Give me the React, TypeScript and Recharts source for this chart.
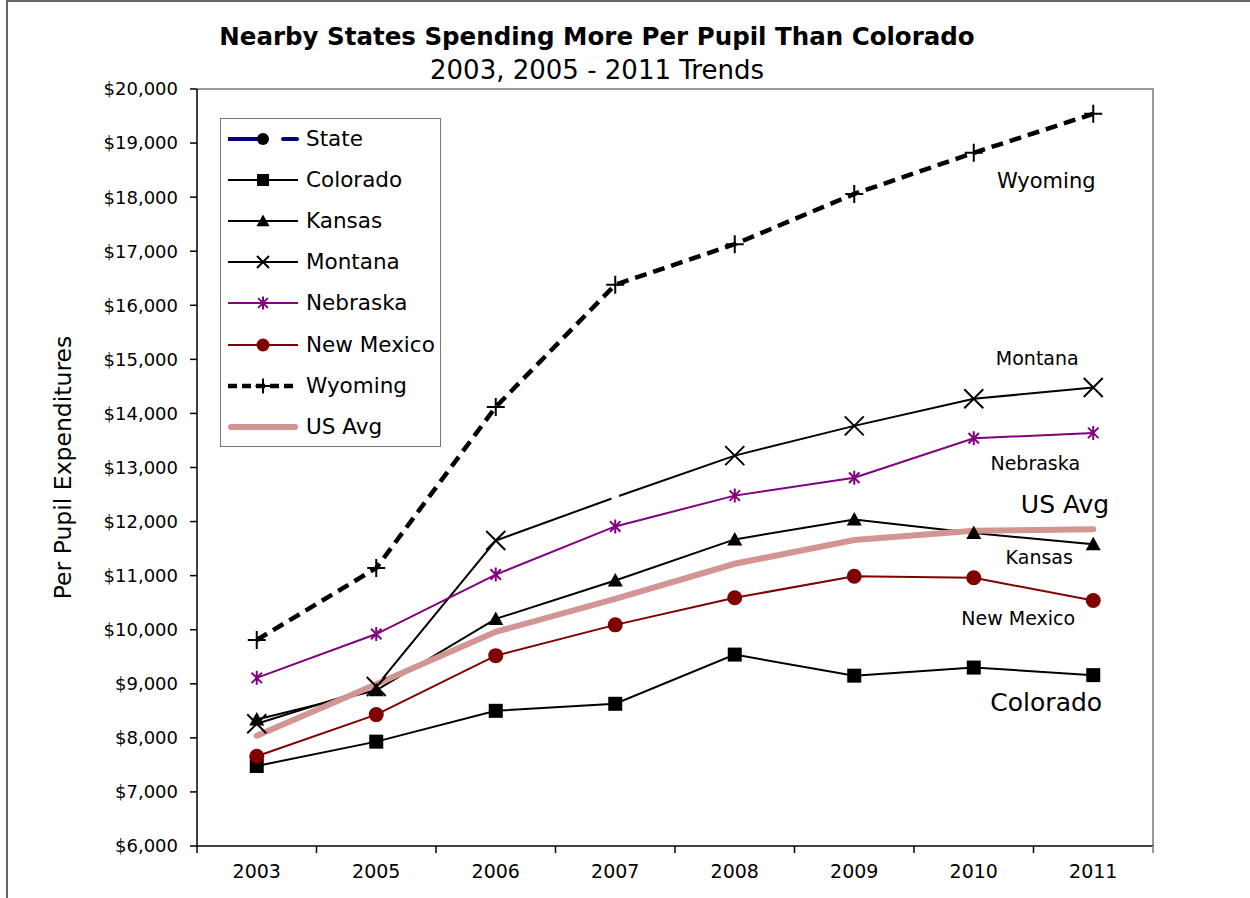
import React from "react";
import { LineChart, Line, XAxis, YAxis, Legend, Label } from "recharts";

// values (per pupil expenditures, $)
const years = ["2003", "2005", "2006", "2007", "2008", "2009", "2010", "2011"];
const colorado = [7480, 7930, 8500, 8630, 9540, 9150, 9300, 9160];
const kansas = [8340, 8880, 10200, 10910, 11670, 12040, 11790, 11580];
const montana = [8260, 8950, 11650, 12450, 13220, 13770, 14270, 14480];
const nebraska = [9110, 9920, 11020, 11910, 12480, 12810, 13540, 13640];
const newMexico = [7660, 8430, 9520, 10090, 10590, 10990, 10960, 10540];
const wyoming = [9810, 11140, 14120, 16380, 17130, 18060, 18820, 19540];
const usAvg = [8040, 8990, 9960, 10570, 11220, 11660, 11830, 11860];
const yTicks = [6000, 7000, 8000, 9000, 10000, 11000, 12000, 13000, 14000, 15000, 16000, 17000, 18000, 19000, 20000];

const rows = years.map((year, i) => ({
  year,
  colorado: colorado[i],
  kansas: kansas[i],
  montana: montana[i],
  nebraska: nebraska[i],
  newMexico: newMexico[i],
  wyoming: wyoming[i],
  usAvg: usAvg[i],
}));

const FONT = '"DejaVu Sans", "Liberation Sans", Arial, sans-serif';
const W = 1250;
const H = 898;
const PLOT = { left: 197, top: 89, right: 1153, bottom: 846 };
const BAND = (PLOT.right - PLOT.left) / years.length;

type Note = { text: string; dx: number; dy: number; size: number; anchor?: string };
type Style = {
  key: string;
  name: string;
  color: string;
  width: number;
  shape: string;
  size: number;
  legendSize: number;
  dash?: string;
  skip?: number[];
  note: Note;
};

const seriesStyle: Style[] = [
  { key: "colorado", name: "Colorado", color: "#000000", width: 2, shape: "square", size: 14, legendSize: 12, note: { text: "Colorado", dx: -47, dy: 27, size: 25 } },
  { key: "kansas", name: "Kansas", color: "#000000", width: 2, shape: "triangle", size: 15, legendSize: 13, note: { text: "Kansas", dx: -54, dy: 13, size: 19 } },
  { key: "montana", name: "Montana", color: "#000000", width: 2, shape: "x", size: 19, legendSize: 12, skip: [3], note: { text: "Montana", dx: -56, dy: -29, size: 19 } },
  { key: "nebraska", name: "Nebraska", color: "#800080", width: 2, shape: "star", size: 14, legendSize: 13, note: { text: "Nebraska", dx: -58, dy: 30, size: 19 } },
  { key: "newMexico", name: "New Mexico", color: "#800000", width: 2, shape: "circle", size: 15, legendSize: 13, note: { text: "New Mexico", dx: -75, dy: 17, size: 19 } },
  { key: "wyoming", name: "Wyoming", color: "#000000", width: 4.5, dash: "12 7", shape: "plus", size: 18, legendSize: 15, note: { text: "Wyoming", dx: -47, dy: 67, size: 21 } },
  { key: "usAvg", name: "US Avg", color: "#d39494", width: 6, shape: "none", size: 0, legendSize: 0, note: { text: "US Avg", dx: 16, dy: -25, size: 25, anchor: "end" } },
];

function marker(shape: string, cx: number, cy: number, s: number, color: string) {
  const h = s / 2;
  switch (shape) {
    case "square":
      return <rect x={cx - h} y={cy - h} width={s} height={s} fill={color} />;
    case "triangle":
      return <polygon points={`${cx},${cy - h} ${cx + h},${cy + h * 0.8} ${cx - h},${cy + h * 0.8}`} fill={color} />;
    case "circle":
      return <circle cx={cx} cy={cy} r={h} fill={color} />;
    case "x":
      return (
        <path d={`M${cx - h},${cy - h}L${cx + h},${cy + h}M${cx + h},${cy - h}L${cx - h},${cy + h}`} stroke={color} strokeWidth={2} fill="none" />
      );
    case "star": {
      const d = h * 0.75;
      return (
        <path
          d={`M${cx},${cy - h}V${cy + h}M${cx - d},${cy - d}L${cx + d},${cy + d}M${cx + d},${cy - d}L${cx - d},${cy + d}`}
          stroke={color}
          strokeWidth={2}
          fill="none"
        />
      );
    }
    case "plus":
      return <path d={`M${cx},${cy - h}V${cy + h}M${cx - h},${cy}H${cx + h}`} stroke={color} strokeWidth={2} fill="none" />;
    default:
      return null;
  }
}

const makeDot = (st: Style) => (p: any) => {
  const { cx, cy, index } = p;
  const k = `${st.key}-${index}`;
  if (cx == null || cy == null) return <g key={k} />;
  const last = index === years.length - 1;
  return (
    <g key={k}>
      {st.skip && st.skip.includes(index) ? <circle cx={cx} cy={cy} r={4} fill="#fff" /> : marker(st.shape, cx, cy, st.size, st.color)}
      {last ? (
        <text
          x={cx + st.note.dx}
          y={cy + st.note.dy}
          textAnchor={st.note.anchor || "middle"}
          dominantBaseline="central"
          fontSize={st.note.size}
          fontFamily={FONT}
          fill="#000"
        >
          {st.note.text}
        </text>
      ) : null}
    </g>
  );
};

function legendIcon(it: Style | null) {
  if (!it) {
    // the empty "State" entry
    return (
      <g>
        <line x1={0} x2={30} y1={15} y2={15} stroke="#000080" strokeWidth={4} />
        <circle cx={35} cy={15} r={6} fill="#000" />
        <line x1={55} x2={69} y1={15} y2={15} stroke="#000080" strokeWidth={4} strokeLinecap="round" />
      </g>
    );
  }
  return (
    <g>
      <line
        x1={it.shape === "none" ? 3 : 0}
        x2={it.shape === "none" ? 67 : 70}
        y1={15}
        y2={15}
        stroke={it.color}
        strokeWidth={it.width}
        strokeDasharray={it.dash ? "9 5" : undefined}
        strokeLinecap={it.shape === "none" ? "round" : "butt"}
      />
      {marker(it.shape, 35, 15, it.legendSize, it.color)}
    </g>
  );
}

function LegendBox() {
  const items: { name: string; st: Style | null }[] = [{ name: "State", st: null }, ...seriesStyle.map((s) => ({ name: s.name, st: s }))];
  return (
    <div
      style={{
        position: "relative",
        width: 221,
        height: 329,
        border: "1px solid #777",
        boxSizing: "border-box",
        background: "#fff",
        fontFamily: FONT,
      }}
    >
      {items.map((it, i) => (
        <div
          key={it.name}
          style={{ position: "absolute", left: 7, top: 20 + i * 41.1 - 15, height: 30, display: "flex", alignItems: "center" }}
        >
          <svg width={72} height={30} style={{ display: "block" }}>
            {legendIcon(it.st)}
          </svg>
          <span style={{ marginLeft: 6, fontSize: 21.5, color: "#000", whiteSpace: "nowrap", lineHeight: "30px" }}>{it.name}</span>
        </div>
      ))}
    </div>
  );
}

function YearTick(props: any) {
  const { x, y, payload, index } = props;
  const half = BAND / 2;
  return (
    <g>
      <line x1={x - half} x2={x - half} y1={y} y2={y + 7} stroke="#000" strokeWidth={1.5} />
      {index === years.length - 1 ? <line x1={x + half} x2={x + half} y1={y} y2={y + 7} stroke="#999" strokeWidth={2} /> : null}
      <text x={x} y={y + 25} textAnchor="middle" dominantBaseline="central" fontSize={19} fontFamily={FONT} fill="#000">
        {payload.value}
      </text>
    </g>
  );
}

const money = (v: number) => `$${v.toLocaleString("en-US")}`;

export default function App() {
  return (
    <div style={{ position: "fixed", left: 0, top: 0, width: W, height: H, overflow: "hidden", background: "#fff", fontFamily: FONT }}>
      <div style={{ position: "absolute", left: 6, top: 0, width: W, height: H, borderLeft: "2px solid #666", borderTop: "2px solid #666" }} />
      <div style={{ position: "absolute", left: 0, top: 22, width: 1194, textAlign: "center", fontSize: 24.5, fontWeight: "bold", lineHeight: "30px", color: "#000" }}>
        Nearby States Spending More Per Pupil Than Colorado
      </div>
      <div style={{ position: "absolute", left: 0, top: 55, width: 1194, textAlign: "center", fontSize: 26, lineHeight: "30px", color: "#000" }}>
        2003, 2005 - 2011 Trends
      </div>
      <div
        style={{
          position: "absolute",
          left: PLOT.left,
          top: PLOT.top - 1,
          width: PLOT.right - PLOT.left + 1,
          height: PLOT.bottom - PLOT.top + 8,
          borderTop: "2px solid #999",
          borderRight: "2px solid #999",
          boxSizing: "border-box",
        }}
      />
      <div style={{ position: "absolute", left: 0, top: 0 }}>
        <LineChart width={W} height={H} data={rows} margin={{ top: PLOT.top, right: W - PLOT.right, bottom: H - PLOT.bottom - 30, left: 0 }}>
          <XAxis
            dataKey="year"
            scale="band"
            interval={0}
            height={30}
            tickSize={0}
            tickMargin={0}
            tickLine={false}
            axisLine={{ stroke: "#000", strokeWidth: 1.5 }}
            tick={<YearTick />}
          />
          <YAxis
            type="number"
            domain={[6000, 20000]}
            ticks={yTicks}
            interval={0}
            width={PLOT.left}
            tickSize={7}
            tickMargin={12}
            axisLine={{ stroke: "#000", strokeWidth: 1.5 }}
            tickLine={{ stroke: "#000", strokeWidth: 1.5 }}
            tick={{ fontSize: 18, fill: "#000", fontFamily: FONT }}
            tickFormatter={money}
          >
            <Label
              value="Per Pupil Expenditures"
              angle={-90}
              position="insideLeft"
              offset={63}
              textAnchor="middle"
              style={{ fontSize: 23.5, fill: "#000", fontFamily: FONT }}
            />
          </YAxis>
          <Legend
            layout="vertical"
            align="center"
            verticalAlign="middle"
            content={() => <LegendBox />}
            wrapperStyle={{ left: 220, top: 118, width: 221, height: 329 }}
          />
          {seriesStyle.map((st) => (
            <Line
              key={st.key}
              type="linear"
              dataKey={st.key}
              name={st.name}
              stroke={st.color}
              strokeWidth={st.width}
              strokeDasharray={st.dash}
              strokeLinecap={st.key === "usAvg" ? "round" : "butt"}
              dot={makeDot(st)}
              activeDot={false}
              isAnimationActive={false}
            />
          ))}
        </LineChart>
      </div>
    </div>
  );
}
